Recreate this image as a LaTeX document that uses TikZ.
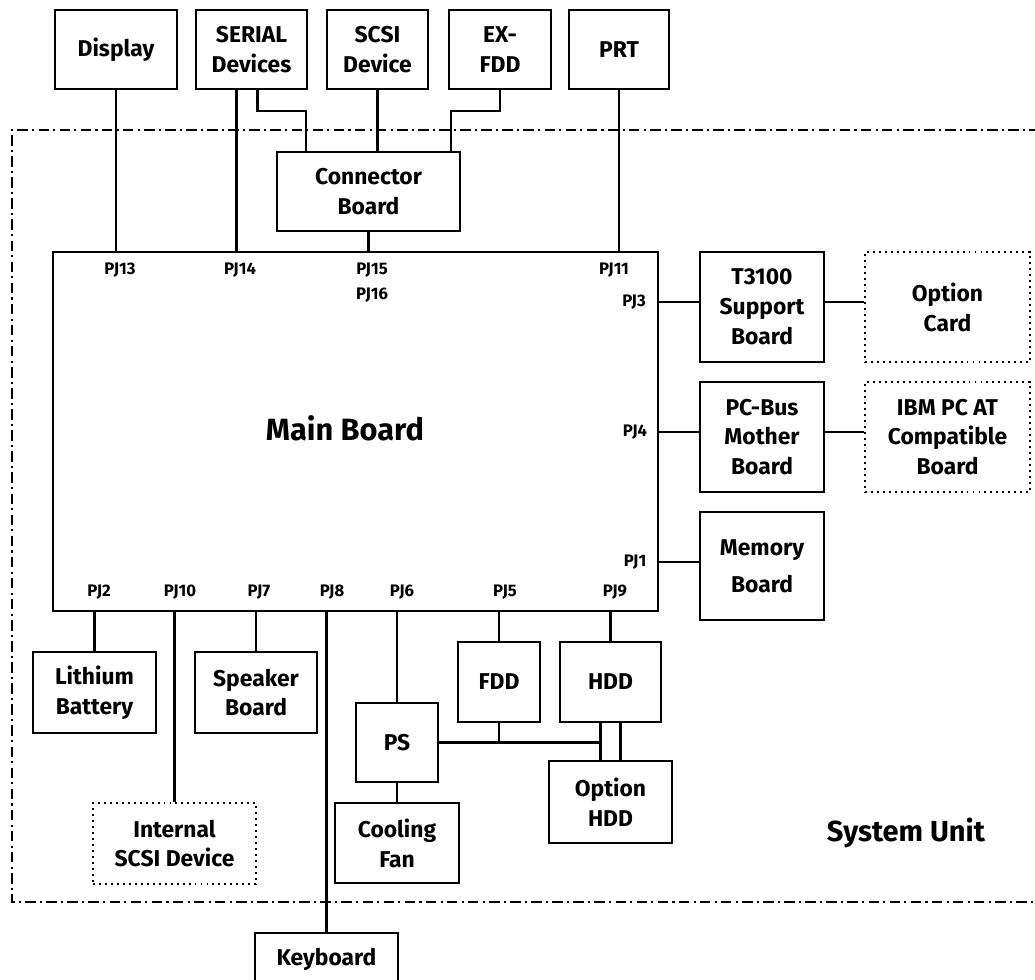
\documentclass[tikz,border=0pt]{standalone}
\usepackage{fontspec}
\setmainfont{Fira Sans}
\usetikzlibrary{calc}
\tikzset{
  board/.style 2 args={draw, line width=1.4pt, align=center, inner sep=0pt,
    minimum width=#1*0.02cm, minimum height=#2*0.02cm,
    font=\bfseries\fontsize{13}{17}\selectfont},
  optboard/.style 2 args={board={#1}{#2}, line width=1.3pt, dash pattern=on 1.1pt off 2.3pt},
  pin/.style={inner sep=0pt, font=\bfseries\fontsize{9.5}{10}\selectfont},
  wire/.style={line width=1.2pt},
  housing/.style={line width=1.1pt, dash pattern=on 6pt off 2.4pt on 1.2pt off 2.4pt}
}
\begin{document}
\begin{tikzpicture}[x=0.02cm,y=-0.02cm]
  \useasboundingbox (0,0) rectangle (1035,980);

  % system unit outline (open to the right)
  \draw[housing] (1040,130) -- (12,130) -- (12,902) -- (1040,902);
  \node[font=\bfseries\fontsize{16.5}{17}\selectfont] (sysunit) at (906,833) {System Unit};

  %% outside devices
  \node[board={122}{79}] (disp)   at (116,49.5)   {Display};
  \node[board={111}{79}] (serial) at (251.5,49.5) {SERIAL\\Devices};
  \node[board={101}{79}] (scsi)   at (377.5,49.5) {SCSI\\Device};
  \node[board={102}{79}] (exfdd)  at (500,49.5)   {EX-\\FDD};
  \node[board={100}{79}] (prt)    at (619,49.5)   {PRT};

  \node[board={183}{79}] (conn) at (368.5,191.5) {Connector\\Board};

  % the main board
  \node[board={605}{359}] (main) at (355.5,431.5) {};
  \node[font=\bfseries\fontsize{17.5}{17}\selectfont] (mainlbl) at (345,428) {Main Board};

  %% right side
  \node[board={124}{110}]    (t3100)   at (762,307)    {T3100\\Support\\Board};
  \node[optboard={165}{110}] (optcard) at (947.5,307)  {Option\\Card};
  \node[board={124}{110}]    (pcbus)   at (762,437)    {PC-Bus\\Mother\\Board};
  \node[optboard={165}{110}] (ibmat)   at (947.5,437)  {IBM PC AT\\Compatible\\Board};
  \node[board={124}{108}]    (mem)     at (762,566)    {Memory\\[4pt]Board};

  %% below the main board
  \node[board={123}{81}]    (lith)  at (94.5,692.5)  {Lithium\\Battery};
  \node[board={122}{81}]    (spk)   at (256,692.5)   {Speaker\\Board};
  \node[optboard={163}{81}] (iscsi) at (174.5,843.5) {Internal\\SCSI Device};
  \node[board={143}{52}]    (kbd)   at (326.5,959)   {Keyboard};
  \node[board={82}{79}]     (ps)    at (397,742.5)   {PS};
  \node[board={124}{80}]    (fan)   at (397,843)     {Cooling\\Fan};
  \node[board={82}{80}]     (fdd)   at (499,682)     {FDD};
  \node[board={101}{80}]    (hdd)   at (610.5,682)   {HDD};
  \node[board={123}{82}]    (ohdd)  at (610.5,802)   {Option\\HDD};

  %% connector names
  \node[pin] (pj13) at (120,270) {PJ13};
  \node[pin] (pj14) at (240,270) {PJ14};
  \node[pin] (pj15) at (372,270) {PJ15};
  \node[pin] (pj16) at (372,295) {PJ16};
  \node[pin] (pj11) at (614,270) {PJ11};
  \node[pin] (pj3)  at (634,302) {PJ3};
  \node[pin] (pj4)  at (635,432) {PJ4};
  \node[pin] (pj1)  at (635,562) {PJ1};
  \node[pin] (pj2)  at (99,592)  {PJ2};
  \node[pin] (pj10) at (180,592) {PJ10};
  \node[pin] (pj7)  at (259,592) {PJ7};
  \node[pin] (pj8)  at (332,592) {PJ8};
  \node[pin] (pj6)  at (402,592) {PJ6};
  \node[pin] (pj5)  at (505,592) {PJ5};
  \node[pin] (pj9)  at (615,592) {PJ9};

  % taps on boxes that carry two lines or an offset line
  \coordinate (sa) at ($(serial.south)+(-15,0)$);
  \coordinate (sb) at ($(serial.south)+(6,0)$);
  \coordinate (cb) at ($(conn.north west)+(30,0)$);
  \coordinate (ce) at ($(conn.north east)+(-10,0)$);
  \coordinate (r3) at ($(t3100.west)+(0,-5)$);
  \coordinate (r4) at ($(pcbus.west)+(0,-5)$);
  \coordinate (r1) at ($(mem.west)+(0,-4)$);
  \coordinate (hl) at ($(hdd.south)+(-10,0)$);
  \coordinate (hr) at ($(hdd.south)+(10,0)$);

  %% wiring
  \draw[wire] (disp) -- (disp |- main.north);
  \draw[wire] (sa) -- (sa |- main.north);
  \draw[wire] (sb) -- ++(0,21) -| (cb);
  \draw[wire] (scsi) -- (scsi |- conn.north);
  \draw[wire] (exfdd.south) -- ++(0,21) -| (ce);
  \draw[wire] (conn) -- (conn |- main.north);
  \draw[wire] (prt) -- (prt |- main.north);

  \draw[wire] (r3 -| main.east) -- (r3);
  \draw[wire] (r3 -| t3100.east) -- (r3 -| optcard.west);
  \draw[wire] (r4 -| main.east) -- (r4);
  \draw[wire] (r4 -| pcbus.east) -- (r4 -| ibmat.west);
  \draw[wire] (r1 -| main.east) -- (r1);

  \draw[wire] (lith) -- (lith |- main.south);
  \draw[wire] (iscsi) -- (iscsi |- main.south);
  \draw[wire] (spk) -- (spk |- main.south);
  \draw[wire] (kbd) -- (kbd |- main.south);
  \draw[wire] (ps) -- (ps |- main.south);
  \draw[wire] (ps) -- (fan);
  \draw[wire] (fdd) -- (fdd |- main.south);
  \draw[wire] (hdd) -- (hdd |- main.south);
  \draw[wire] (ps.east) -- (ps.east -| hl);
  \draw[wire] (fdd) -- (fdd |- ps.east);
  \draw[wire] (hl) -- (hl |- ohdd.north);
  \draw[wire] (hr) -- (hr |- ohdd.north);
\end{tikzpicture}
\end{document}
